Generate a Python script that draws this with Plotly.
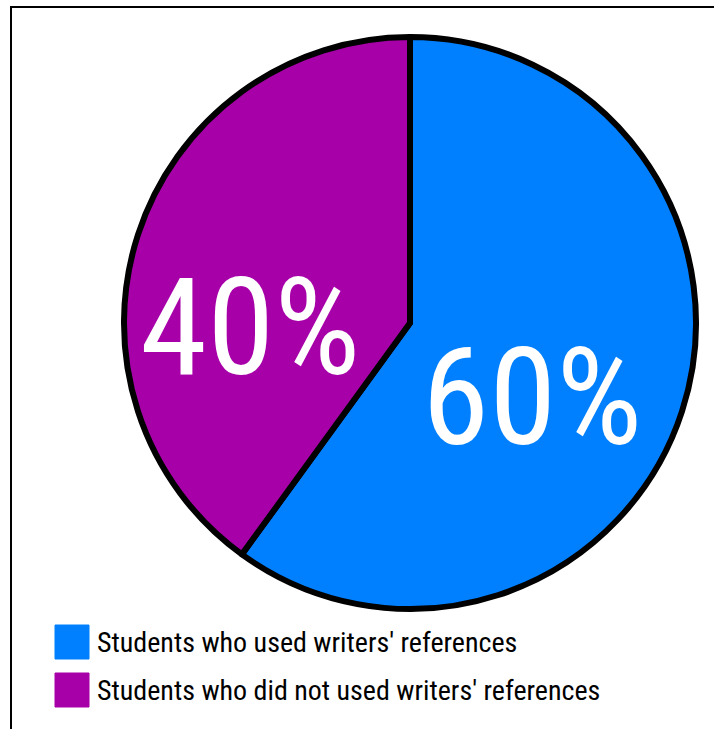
import plotly.graph_objects as go

labels = ["Students who used writers' references",
          "Students who did not used writers' references"]
values = [60, 40]
colors = ["#0080FF", "#A800A8"]
pct_text = [f"{v}%" for v in values]
pct_pos = [(532, 397), (250, 327)]  # label centres (px) for each slice

W, H = 714, 729
FONT = "Roboto Condensed, Liberation Sans Narrow, Roboto, sans-serif"

cx, cy, r = 410, 323, 286
fig = go.Figure(go.Pie(
    labels=labels, values=values, sort=False, direction="clockwise", rotation=0,
    marker=dict(colors=colors, line=dict(color="black", width=6)),
    textinfo="none",
    domain=dict(x=[(cx - r) / W, (cx + r) / W], y=[(H - cy - r) / H, (H - cy + r) / H]),
    showlegend=False, hoverinfo="label+percent",
))

shapes = [dict(type="rect", xref="paper", yref="paper",
               x0=11 / W, x1=1.05, y0=-0.05, y1=1 - 7 / H,
               line=dict(color="black", width=2), fillcolor="rgba(0,0,0,0)")]
annotations = []
for t, (px, py) in zip(pct_text, pct_pos):
    annotations.append(dict(xref="paper", yref="paper", x=px / W, y=1 - py / H,
                            xanchor="center", yanchor="middle", showarrow=False, text=t,
                            font=dict(family=FONT, size=136, color="white")))
leg_y = [642, 690]
for lab, col, yy in zip(labels, colors, leg_y):
    shapes.append(dict(type="rect", xref="paper", yref="paper",
                       x0=55 / W, x1=89 / W, y0=1 - (yy + 17) / H, y1=1 - (yy - 17) / H,
                       line=dict(color=col, width=1), fillcolor=col))
    annotations.append(dict(xref="paper", yref="paper", x=95 / W, y=1 - yy / H,
                            xanchor="left", yanchor="middle", showarrow=False, text=lab,
                            font=dict(family=FONT, size=28, color="black")))

fig.update_layout(width=W, height=H, margin=dict(l=0, r=0, t=0, b=0),
                  paper_bgcolor="white", plot_bgcolor="white",
                  shapes=shapes, annotations=annotations)
fig.write_html("out.html", config={"displayModeBar": False},
               post_script="document.body.style.margin='0';")
